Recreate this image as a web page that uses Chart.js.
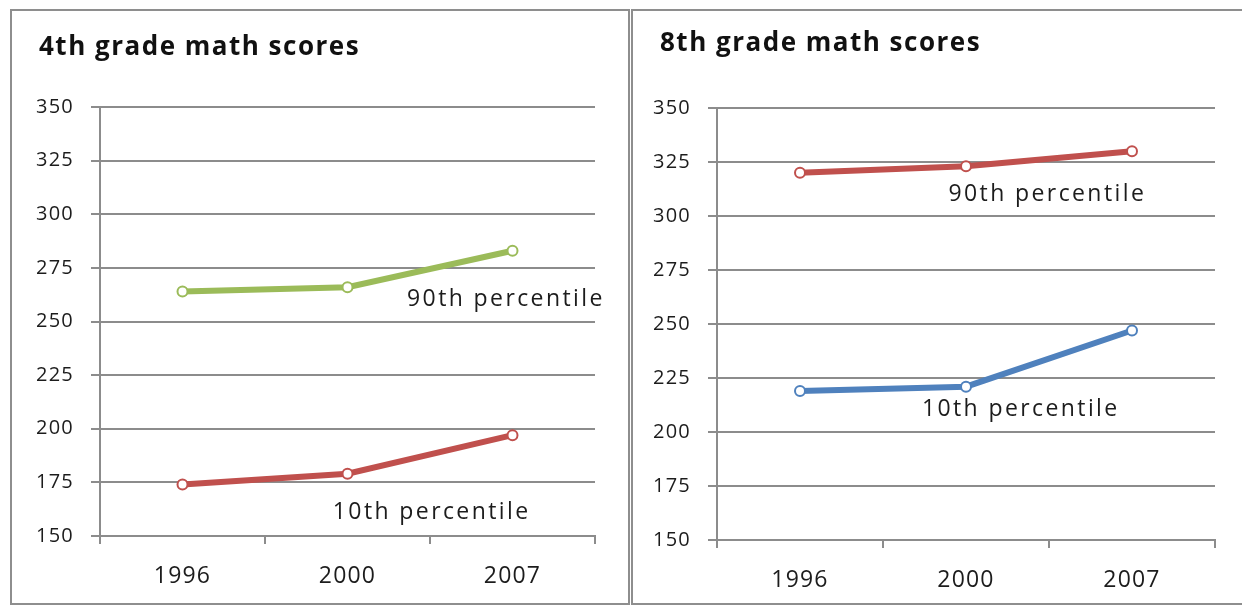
<!DOCTYPE html>
<html>
<head>
<meta charset="utf-8">
<script src="https://cdn.jsdelivr.net/npm/chart.js@4/dist/chart.umd.min.js"></script>
<style>
  body { margin: 0; background: #fff; width: 1242px; height: 606px; overflow: hidden; position: relative; }
  .panel { position: absolute; border: 2px solid #8e8e8e; box-sizing: border-box; background: #fff; }
  #p4 { left: 10px; top: 9px; width: 620px; height: 596px; }
  #p8 { left: 631px; top: 9px; width: 620px; height: 596px; }
  .panel canvas { position: absolute; left: 0; top: 0; }
</style>
</head>
<body>
<div class="panel" id="p4"><canvas id="grafico4"></canvas></div>
<div class="panel" id="p8"><canvas id="grafico8"></canvas></div>
<script>
// datos
var anios = ["1996", "2000", "2007"];
var yTicks = [150, 175, 200, 225, 250, 275, 300, 325, 350];

var g4_p90 = [264, 266, 283];
var g4_p10 = [174, 179, 197];
var g8_p90 = [320, 323, 330];
var g8_p10 = [219, 221, 247];

var tituloG4 = "4th grade math scores";
var tituloG8 = "8th grade math scores";
var etiqueta90 = "90th percentile";
var etiqueta10 = "10th percentile";

var VERDE = '#9bbb59', ROJO = '#c0504d', AZUL = '#4f81bd';
var GRIS = '#8c8c8c';
var FUENTE = "'Open Sans', 'Noto Sans', sans-serif";

// el texto del original es mas ancho, se abre un poco el espaciado
var espaciadoPlugin = {
    id: 'espaciado',
    beforeDraw: function (chart) {
        chart.ctx.letterSpacing = '1.2px';
    }
};

// titulo arriba a la izquierda del recuadro (el de chart.js se alinea con la escala)
var tituloPlugin = {
    id: 'tituloIzq',
    afterDraw: function (chart, args, opts) {
        var ctx = chart.ctx;
        ctx.save();
        ctx.font = 'bold 26px ' + FUENTE;
        ctx.letterSpacing = '1.5px';
        ctx.fillStyle = '#111';
        ctx.textAlign = 'left';
        ctx.textBaseline = 'middle';
        ctx.fillText(opts.texto, opts.x, opts.y);
        ctx.restore();
    }
};

// etiquetas de las series, ubicadas en coordenadas de datos (indice de categoria, valor)
var etiquetasPlugin = {
    id: 'etiquetas',
    afterDatasetsDraw: function (chart, args, opts) {
        var ctx = chart.ctx;
        ctx.save();
        ctx.font = '23px ' + FUENTE;
        ctx.letterSpacing = '2.4px';
        ctx.fillStyle = '#1c1c1c';
        ctx.textAlign = 'center';
        ctx.textBaseline = 'middle';
        opts.items.forEach(function (it) {
            var x = chart.scales.x.getPixelForValue(it.x);
            var y = chart.scales.y.getPixelForValue(it.y);
            ctx.fillText(it.texto, x, y);
        });
        ctx.restore();
    }
};

function serie(datos, color) {
    return {
        data: datos,
        borderColor: color,
        borderWidth: 6,
        pointRadius: 5,
        pointBorderWidth: 2,
        pointBackgroundColor: '#fff',
        pointBorderColor: color,
        tension: 0
    };
}

function grafico(id, titulo, series, etiquetas, m) {
    var canvas = document.getElementById(id);
    canvas.width = m.w;
    canvas.height = m.h;
    var ctx = canvas.getContext('2d');
    return new Chart(ctx, {
        type: 'line',
        data: {
            labels: anios,
            datasets: series
        },
        plugins: [espaciadoPlugin, tituloPlugin, etiquetasPlugin],
        options: {
            responsive: false,
            animation: false,
            layout: { padding: { left: 0, right: m.padR, top: m.padT, bottom: 0 } },
            plugins: {
                legend: { display: false },
                tooltip: { enabled: false },
                title: { display: false },
                tituloIzq: { texto: titulo, x: m.tX, y: m.tY },
                etiquetas: { items: etiquetas }
            },
            scales: {
                x: {
                    type: 'category',
                    offset: true,
                    grid: { offset: true, drawOnChartArea: false, drawTicks: true, tickLength: 8, color: GRIS, lineWidth: 2 },
                    border: { display: true, color: GRIS, width: 2 },
                    ticks: { color: '#1c1c1c', padding: 19, font: { family: FUENTE, size: 23 } },
                    afterFit: function (s) { s.height = m.xH; }
                },
                y: {
                    min: 150,
                    max: 350,
                    afterBuildTicks: function (s) { s.ticks = yTicks.map(function (v) { return { value: v }; }); },
                    grid: { color: GRIS, lineWidth: 2, tickLength: 9 },
                    border: { display: true, color: GRIS, width: 2 },
                    ticks: { color: '#1c1c1c', padding: 17, font: { family: FUENTE, size: 20 } },
                    afterFit: function (s) { s.width = m.yW; }
                }
            }
        }
    });
}

grafico('grafico4', tituloG4,
    [serie(g4_p90, VERDE), serie(g4_p10, ROJO)],
    [{ texto: etiqueta90, x: 1.96, y: 260.5 }, { texto: etiqueta10, x: 1.51, y: 160.8 }],
    { w: 616, h: 592, padR: 33, padT: 96, xH: 67, yW: 88, tX: 27, tY: 37 });

grafico('grafico8', tituloG8,
    [serie(g8_p90, ROJO), serie(g8_p10, AZUL)],
    [{ texto: etiqueta90, x: 1.49, y: 310 }, { texto: etiqueta10, x: 1.33, y: 210.5 }],
    { w: 616, h: 592, padR: 34, padT: 97, xH: 63, yW: 84, tX: 27, tY: 33 });
</script>
</body>
</html>
